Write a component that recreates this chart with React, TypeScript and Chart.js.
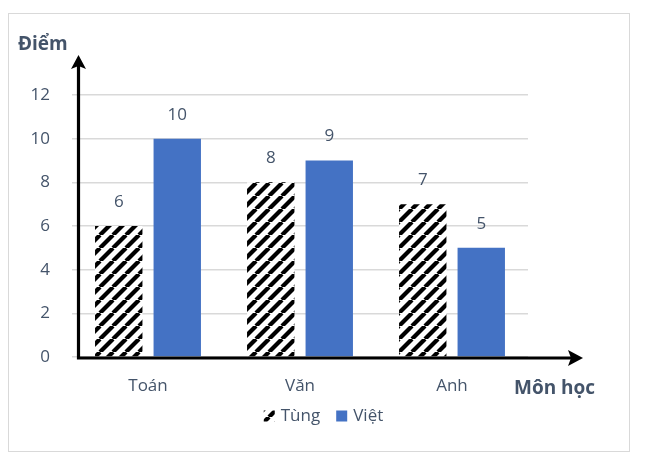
import React, { useEffect, useRef } from 'react'
import { Chart, registerables, type ChartConfiguration, type Plugin } from 'chart.js'

Chart.register(...registerables)

const subjects = ['Toán', 'Văn', 'Anh']
const tungScores = [6, 8, 7]
const vietScores = [10, 9, 5]
const seriesNames = ['Tùng', 'Việt']
const yTitle = 'Điểm'
const xTitle = 'Môn học'

const TEXT = '#44546a'
const BLUE = '#4472c4'
const GRID = '#d9d9d9'
const FONT = "'Open Sans', 'Noto Sans', sans-serif"

function makeHatch(): CanvasPattern | string {
  const s = 13
  const c = document.createElement('canvas')
  c.width = s
  c.height = s
  const g = c.getContext('2d')
  if (!g) return '#000'
  g.fillStyle = '#fff'
  g.fillRect(0, 0, s, s)
  g.strokeStyle = '#000'
  g.lineWidth = 4.2
  for (let k = -1; k <= 1; k++) {
    g.beginPath()
    g.moveTo(k * s, s)
    g.lineTo(k * s + s, 0)
    g.stroke()
  }
  return g.createPattern(c, 'repeat') ?? '#000'
}

// arrows, axis titles, value labels, legend
const decor: Plugin = {
  id: 'decor',
  afterDatasetsDraw(chart) {
    const { ctx } = chart
    ctx.save()
    ctx.fillStyle = TEXT
    ctx.font = `17px ${FONT}`
    ctx.textAlign = 'center'
    ctx.textBaseline = 'middle'
    chart.data.datasets.forEach((ds, i) => {
      chart.getDatasetMeta(i).data.forEach((el: any, j) => {
        ctx.fillText(String(ds.data[j]), el.x, el.y - 24)
      })
    })
    ctx.restore()
  },
  afterDraw(chart) {
    const { ctx, chartArea, scales } = chart
    const y0 = scales.y.getPixelForValue(0) + 1
    const ax = chartArea.left + 6.5
    const xEnd = 574
    const yTop = 41
    ctx.save()
    ctx.strokeStyle = '#000'
    ctx.fillStyle = '#000'
    ctx.lineWidth = 3.2
    ctx.beginPath()
    ctx.moveTo(ax, y0 + 1.5)
    ctx.lineTo(ax, yTop + 10)
    ctx.moveTo(ax - 1.5, y0)
    ctx.lineTo(xEnd - 10, y0)
    ctx.stroke()
    // y arrow head
    ctx.beginPath()
    ctx.moveTo(ax, yTop)
    ctx.lineTo(ax + 7.5, yTop + 14)
    ctx.lineTo(ax, yTop + 11)
    ctx.lineTo(ax - 7.5, yTop + 14)
    ctx.closePath()
    ctx.fill()
    // x arrow head
    ctx.beginPath()
    ctx.moveTo(xEnd, y0)
    ctx.lineTo(xEnd - 15, y0 - 8)
    ctx.lineTo(xEnd - 12, y0)
    ctx.lineTo(xEnd - 15, y0 + 8)
    ctx.closePath()
    ctx.fill()

    ctx.fillStyle = TEXT
    ctx.font = `bold 19px ${FONT}`
    ctx.textBaseline = 'middle'
    ctx.textAlign = 'left'
    ctx.fillText(yTitle, 9, 31)
    ctx.fillText(xTitle, 505, 375)

    // legend
    ctx.font = `17px ${FONT}`
    const box = 11
    const gap = 6
    const itemGap = 16
    const widths = chart.data.datasets.map(ds => box + gap + ctx.measureText(String(ds.label)).width)
    const total = widths.reduce((a, b) => a + b, 0) + itemGap * (widths.length - 1)
    let x = 314.5 - total / 2
    const ly = 402
    chart.data.datasets.forEach((ds, i) => {
      ctx.fillStyle = ds.backgroundColor as any
      ctx.fillRect(x, ly - box / 2, box, box)
      ctx.fillStyle = TEXT
      ctx.fillText(String(ds.label), x + box + gap, ly)
      x += widths[i] + itemGap
    })
    ctx.restore()
  },
}

export default function App() {
  const canvasRef = useRef<HTMLCanvasElement>(null)
  const chartRef = useRef<Chart | null>(null)

  useEffect(() => {
    if (!canvasRef.current) return
    chartRef.current?.destroy()

    const cfg: ChartConfiguration<'bar'> = {
      type: 'bar',
      data: {
        labels: subjects,
        datasets: [
          { label: seriesNames[0], data: tungScores, backgroundColor: makeHatch() as any },
          { label: seriesNames[1], data: vietScores, backgroundColor: BLUE },
        ],
      },
      options: {
        responsive: false,
        animation: false,
        categoryPercentage: 0.77,
        barPercentage: 0.81,
        layout: { padding: { top: 81, right: 101, left: 0, bottom: 0 } },
        plugins: {
          legend: { display: false },
          tooltip: { enabled: false },
        },
        scales: {
          x: {
            grid: { display: false, drawTicks: false },
            border: { display: false },
            ticks: { color: TEXT, padding: 19, font: { family: FONT, size: 17 } },
            afterFit: (s: any) => { s.height = 94 },
          },
          y: {
            min: 0,
            max: 12,
            grid: { color: GRID, lineWidth: 1.5, drawTicks: false },
            border: { display: false },
            ticks: { stepSize: 2, color: TEXT, padding: 22, font: { family: FONT, size: 17 } },
            afterFit: (s: any) => { s.width = 63 },
          },
        },
      },
      plugins: [decor],
    }
    chartRef.current = new Chart(canvasRef.current, cfg)
    return () => { chartRef.current?.destroy() }
  }, [])

  return (
    <div style={{ position: 'absolute', top: 13, left: 8, width: 622, height: 439, border: '1px solid #d9d9d9', boxSizing: 'border-box' }}>
      <canvas ref={canvasRef} width={620} height={437} style={{ display: 'block' }} />
    </div>
  )
}
